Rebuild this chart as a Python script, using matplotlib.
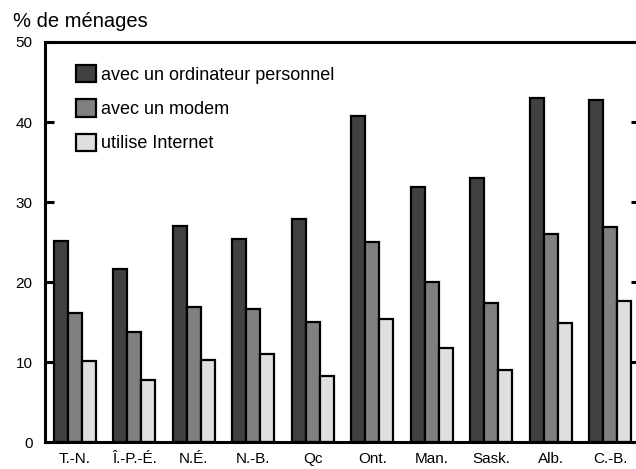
import matplotlib
matplotlib.use("Agg")
import matplotlib.pyplot as plt
import numpy as np

plt.rcParams['font.family'] = ['Liberation Sans', 'DejaVu Sans']

categories = ["T.-N.", "Î.-P.-É.", "N.É.", "N.-B.", "Qc", "Ont.", "Man.", "Sask.", "Alb.", "C.-B."]
ordinateur = [25.1, 21.6, 27.0, 25.4, 27.9, 40.8, 31.9, 33.0, 43.0, 42.8]
modem = [16.1, 13.8, 16.9, 16.6, 15.0, 25.0, 20.0, 17.4, 26.0, 26.9]
internet = [10.1, 7.8, 10.2, 11.0, 8.2, 15.4, 11.8, 9.0, 14.9, 17.6]
series_labels = ["avec un ordinateur personnel", "avec un modem", "utilise Internet"]
yticks = [0, 10, 20, 30, 40, 50]

colors = ["#414141", "#808080", "#dfdfdf"]

fig = plt.figure(figsize=(6.36, 4.69), dpi=100)
ax = fig.add_axes([45/636, 1-442/469, (640-45)/636, 400/469])

x = np.arange(len(categories))
w = 0.237
for i, (vals, lab, c) in enumerate(zip([ordinateur, modem, internet], series_labels, colors)):
    ax.bar(x + (i-1)*w, vals, width=w, color=c, edgecolor="black", linewidth=1.6, label=lab)

ax.set_xlim(-0.5, len(categories)-0.5)
ax.set_ylim(0, 50)
ax.set_yticks(yticks)
ax.set_xticks(x)
ax.set_xticklabels(categories)
ax.tick_params(axis='y', direction='in', length=6.5, width=2.2, left=True, right=True,
               labelsize=11, pad=9)
ax.tick_params(axis='x', length=0, labelsize=11, pad=7)
for s in ax.spines.values():
    s.set_linewidth(2.2)

fig.text(13/636, 1-27/469, "% de ménages", fontsize=14.5, va='baseline', ha='left')

leg = ax.legend(loc='upper left', bbox_to_anchor=(76/636, 1-65/469),
                bbox_transform=fig.transFigure, frameon=False,
                fontsize=13, handlelength=1.1, handleheight=1.1, labelspacing=0.86,
                handletextpad=0.3, borderaxespad=0, borderpad=0)

fig.savefig("out.png", dpi=100)
